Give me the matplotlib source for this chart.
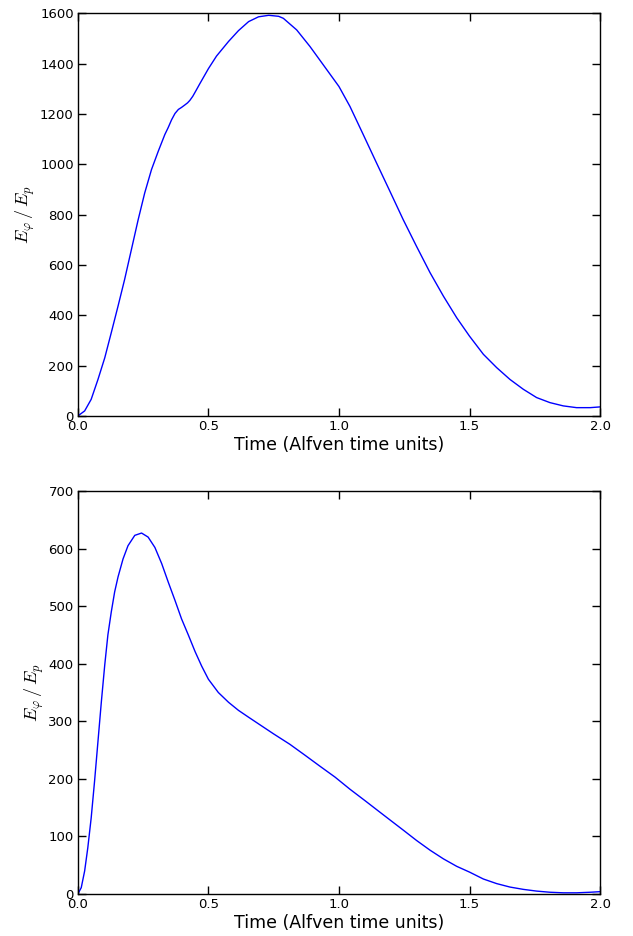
import matplotlib
matplotlib.use("Agg")
from matplotlib import pyplot as plt

plt.rcParams["mathtext.fontset"] = "cm"
plt.rcParams["font.size"] = 9.5

# top panel: E_phi / E_p, run 1
time_top = [0.0, 0.026, 0.051, 0.077, 0.103, 0.128, 0.154, 0.179, 0.205, 0.231,
            0.256, 0.282, 0.308, 0.333, 0.346, 0.359, 0.372, 0.385, 0.397, 0.41,
            0.42, 0.429, 0.44, 0.452, 0.467, 0.5, 0.531, 0.577, 0.615, 0.654,
            0.692, 0.731, 0.769, 0.787, 0.838, 0.889, 0.94, 1.0, 1.042, 1.093,
            1.144, 1.195, 1.246, 1.297, 1.349, 1.4, 1.451, 1.5, 1.553, 1.604,
            1.655, 1.706, 1.757, 1.808, 1.859, 1.91, 1.962, 2.0]
ratio_top = [0, 20, 66, 145, 231, 331, 437, 542, 661, 780,
             886, 979, 1052, 1118, 1146, 1177, 1202, 1218, 1226, 1236,
             1244, 1254, 1270, 1292, 1320, 1380, 1430, 1488, 1531, 1567,
             1586, 1592, 1588, 1580, 1534, 1468, 1395, 1309, 1230, 1118,
             1005, 893, 780, 674, 569, 476, 390, 317, 245, 192,
             145, 106, 73, 53, 40, 33, 33, 36]

# bottom panel: E_phi / E_p, run 2
time_bot = [0.0, 0.013, 0.026, 0.038, 0.051, 0.064, 0.077, 0.09, 0.103, 0.115,
            0.128, 0.141, 0.154, 0.173, 0.192, 0.218, 0.244, 0.269, 0.295, 0.321,
            0.346, 0.372, 0.397, 0.423, 0.449, 0.474, 0.5, 0.538, 0.577, 0.615,
            0.654, 0.697, 0.75, 0.812, 0.87, 0.927, 0.985, 1.042, 1.1, 1.157,
            1.2, 1.246, 1.297, 1.349, 1.4, 1.451, 1.5, 1.553, 1.604, 1.655,
            1.706, 1.757, 1.808, 1.859, 1.91, 1.962, 2.0]
ratio_bot = [0, 11, 40, 80, 132, 196, 265, 334, 398, 450,
             490, 525, 551, 582, 605, 623, 627, 620, 602, 574,
             542, 510, 478, 450, 421, 396, 373, 350, 333, 319,
             307, 294, 278, 260, 241, 222, 203, 182, 162, 142,
             127, 111, 93, 76, 61, 48, 38, 26, 18, 12,
             8, 5, 3, 2, 2, 3, 4]

panels = [
    (time_top, ratio_top, [0, 200, 400, 600, 800, 1000, 1200, 1400, 1600], 1600),
    (time_bot, ratio_bot, [0, 100, 200, 300, 400, 500, 600, 700], 700),
]
positions = [
    [0.123, 0.5556, 0.825, 0.4302],
    [0.123, 0.0449, 0.825, 0.4305],
]

fig = plt.figure(figsize=(6.33, 9.36), dpi=100)
for (t, r, yticks, ymax), pos in zip(panels, positions):
    ax = fig.add_axes(pos)
    ax.plot(t, r, color="#0000ff", linewidth=1.0)
    ax.set_xlim(0, 2.0)
    ax.set_ylim(0, ymax)
    ax.set_xticks([0.0, 0.5, 1.0, 1.5, 2.0])
    ax.set_xticklabels(["0.0", "0.5", "1.0", "1.5", "2.0"])
    ax.set_yticks(yticks)
    ax.tick_params(direction="in", top=True, right=True, length=6, width=1,
                   pad=3, labelsize=9.5)
    ax.set_xlabel("Time (Alfven time units)", fontsize=12.5, labelpad=2)
    ax.set_ylabel(r"$E_\varphi\,/\,E_p$", fontsize=13, labelpad=2)
    for s in ax.spines.values():
        s.set_linewidth(1.0)

fig.savefig("out.png", dpi=100)
